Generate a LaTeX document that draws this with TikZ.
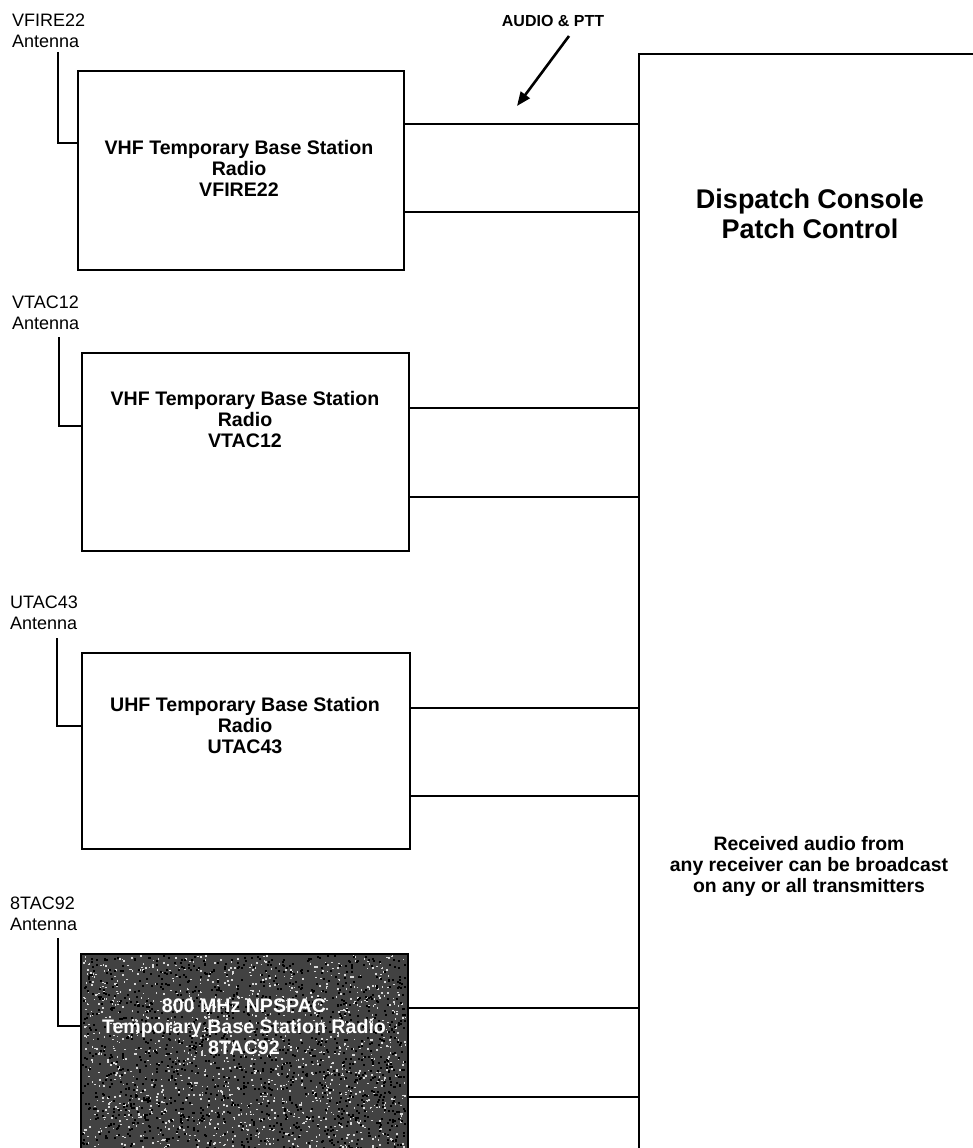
\documentclass[tikz,border=0pt]{standalone}
\usepackage{fontspec}
\setmainfont{Liberation Sans}
\usetikzlibrary{arrows.meta}
\begin{document}
\begin{tikzpicture}[x=1pt,y=-1pt,
  radio/.style={draw, line width=2pt, inner sep=0pt, anchor=north west},
  console/.style={draw, line width=2pt, inner sep=0pt, anchor=north west},
  link/.style={line width=2.4pt},
  ant/.style={line width=1.3pt},
  boxtxt/.style={anchor=north, inner sep=0pt, align=center, font=\bfseries\fontsize{19.6}{21}\selectfont},
  antlabel/.style={anchor=north west, inner sep=0pt, align=left, font=\fontsize{18}{21}\selectfont},
  bigtxt/.style={anchor=north, inner sep=0pt, align=center, font=\bfseries\fontsize{27}{30}\selectfont},
  notetxt/.style={anchor=north, inner sep=0pt, align=center, font=\bfseries\fontsize{19.4}{21}\selectfont}
]
\useasboundingbox (0,0) rectangle (972,1148);
\fill[white] (0,0) rectangle (972,1148);

% dispatch console (extends past the page)
\node[console, minimum width=380pt, minimum height=1160pt] (disp) at (638,53) {};
\node[bigtxt] (disptxt) at (810,188.5) {Dispatch Console\\Patch Control};
\node[notetxt] (note) at (809,836) {Received audio from\\any receiver can be broadcast\\on any or all transmitters};

% radios
\node[radio, minimum width=326pt, minimum height=199pt] (b1) at (77,70) {};
\node[radio, minimum width=327pt, minimum height=198pt] (b2) at (81,352) {};
\node[radio, minimum width=328pt, minimum height=196pt] (b3) at (81,652) {};
\node[radio, minimum width=327pt, minimum height=198pt, fill=black!74] (b4) at (80,953) {};

% speckled texture of the shaded radio
\begin{scope}
  \clip (b4.north west) rectangle (b4.south east);
  \pgfmathsetseed{4711}
  \foreach \i in {1,...,1400}{
    \pgfmathsetmacro\xx{82+323*rnd}
    \pgfmathsetmacro\yy{955+193*rnd}
    \fill[white!85!black] (\xx,\yy) rectangle ++(1.6,1.6);
  }
  \foreach \i in {1,...,1400}{
    \pgfmathsetmacro\xx{82+323*rnd}
    \pgfmathsetmacro\yy{955+193*rnd}
    \fill[black] (\xx,\yy) rectangle ++(2,2);
  }
\end{scope}

\node[boxtxt] (t1) at (239,140) {VHF Temporary Base Station\\Radio\\VFIRE22};
\node[boxtxt] (t2) at (245,391) {VHF Temporary Base Station\\Radio\\VTAC12};
\node[boxtxt] (t3) at (245,697) {UHF Temporary Base Station\\Radio\\UTAC43};
\node[boxtxt, text=white] (t4) at (244,999) {800 MHz NPSPAC\\Temporary Base Station Radio\\8TAC92};

% antenna labels
\node[antlabel] (l1) at (12,13.5) {VFIRE22\\Antenna};
\node[antlabel] (l2) at (12,295.5) {VTAC12\\Antenna};
\node[antlabel] (l3) at (10,595.5) {UTAC43\\Antenna};
\node[antlabel] (l4) at (10,896.5) {8TAC92\\Antenna};

% antenna leads
\coordinate (a1) at (58,52);
\coordinate (a2) at (59,337);
\coordinate (a3) at (57,638);
\coordinate (a4) at (58,938);
\draw[ant] (a1) |- ([yshift=-73pt]b1.north west);
\draw[ant] (a2) |- ([yshift=-74pt]b2.north west);
\draw[ant] (a3) |- ([yshift=-74pt]b3.north west);
\draw[ant] (a4) |- ([yshift=-73pt]b4.north west);

% audio / PTT links
\foreach \b/\u/\v in {b1/54/142, b2/56/145, b3/56/144, b4/55/144}{
  \draw[link] ([yshift=-\u pt]\b.north east) coordinate (\b u) -- (\b u -| disp.west);
  \draw[link] ([yshift=-\v pt]\b.north east) coordinate (\b v) -- (\b v -| disp.west);
}

% AUDIO & PTT label and arrow
\node[inner sep=0pt, font=\bfseries\fontsize{16}{18}\selectfont] (ptt) at (553,21) {AUDIO \& PTT};
\coordinate (arrtail) at (569,36);
\coordinate (arrhead) at (517,106);
\draw[line width=2.6pt, -{Triangle[length=14pt,width=11pt]}] (arrtail) -- (arrhead);
\end{tikzpicture}
\end{document}
